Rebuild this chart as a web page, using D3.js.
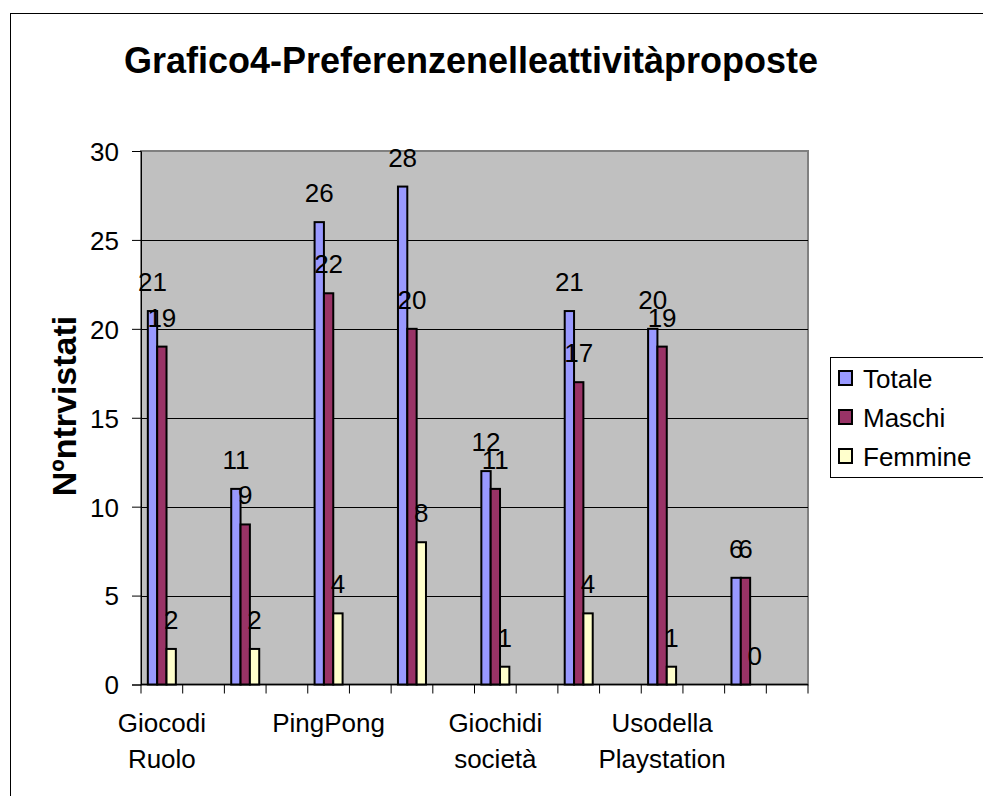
<!DOCTYPE html>
<html>
<head>
<meta charset="utf-8">
<script src="https://cdn.jsdelivr.net/npm/d3@7"></script>
<style>
  body { margin: 0; background: #fff; }
  svg { display: block; font-family: "Liberation Sans", Arial, sans-serif; }
</style>
</head>
<body>
<svg width="983" height="796"></svg>
<script>
// categories - Excel leaves empty rows between the groups, so 16 slots
var categories = ["Giocodi Ruolo", "", "", "", "PingPong", "", "", "", "Giochidi società", "", "", "", "Usodella Playstation", "", "", ""];
var seriesNames = ["Totale", "Maschi", "Femmine"];
var totale  = [21, null, 11, null, 26, null, 28, null, 12, null, 21, null, 20, null, 6, null];
var maschi  = [19, null, 9, null, 22, null, 20, null, 11, null, 17, null, 19, null, 6, null];
var femmine = [2, null, 2, null, 4, null, 8, null, 1, null, 4, null, 1, null, 0, null];
var yTicks = [0, 5, 10, 15, 20, 25, 30];
var colors = ["#9999ff", "#993366", "#ffffcc"];

var title = "Grafico4-Preferenzenelleattivitàproposte";
var yTitle = "Nºntrvistati";

var svg = d3.select("svg");
var plot = { left: 141, right: 808, top: 151, bottom: 684.5 };

// outer chart border (runs off the right and bottom edge)
svg.append("rect")
    .attr("x", 10.5).attr("y", 13.5)
    .attr("width", 1000).attr("height", 800)
    .attr("fill", "#fff").attr("stroke", "#000");

svg.append("text")
    .attr("x", 471).attr("y", 73)
    .attr("text-anchor", "middle")
    .style("font-size", "36px").style("font-weight", "bold")
    .text(title);

var x = d3.scaleBand()
    .domain(d3.range(categories.length))
    .range([plot.left, plot.right])
    .padding(0);

var bw = x.bandwidth();
var x1 = d3.scaleBand()
    .domain(seriesNames)
    .range([bw * 0.164, bw * 0.836]);

var y = d3.scaleLinear()
    .domain([0, 30])
    .range([plot.bottom, plot.top]);

// plot area
svg.append("rect")
    .attr("x", plot.left).attr("y", plot.top)
    .attr("width", plot.right - plot.left).attr("height", plot.bottom - plot.top)
    .attr("fill", "#c0c0c0").attr("stroke", "#808080").attr("stroke-width", 2);

// gridlines
svg.append("g").selectAll("line")
    .data(yTicks.filter(d => d > 0 && d < 30))
    .enter().append("line")
    .attr("x1", plot.left).attr("x2", plot.right)
    .attr("y1", d => Math.round(y(d)) + 0.5).attr("y2", d => Math.round(y(d)) + 0.5)
    .attr("stroke", "#000");

// y axis
var yAxis = svg.append("g")
    .attr("transform", "translate(" + plot.left + ",0)")
    .call(d3.axisLeft(y).tickValues(yTicks).tickSize(9).tickPadding(13));
yAxis.selectAll("text").style("font-size", "26px").attr("fill", "#000").attr("dy", "0.36em");
yAxis.selectAll("line, path").attr("stroke", "#000");

// x axis line + ticks on category boundaries
svg.append("line")
    .attr("x1", plot.left).attr("x2", plot.right)
    .attr("y1", plot.bottom).attr("y2", plot.bottom)
    .attr("stroke", "#000").attr("stroke-width", 1.5);

svg.append("g").selectAll("line")
    .data(d3.range(categories.length + 1))
    .enter().append("line")
    .attr("x1", d => x.step() * d + plot.left).attr("x2", d => x.step() * d + plot.left)
    .attr("y1", plot.bottom).attr("y2", plot.bottom + 9)
    .attr("stroke", "#000");

// category labels, wrapped on the space like Excel does
var lbl = svg.append("g").selectAll("text")
    .data(categories.map((c, i) => ({ c: c, i: i })).filter(d => d.c !== ""))
    .enter().append("text")
    .attr("text-anchor", "middle")
    .style("font-size", "26px");
lbl.each(function(d) {
    var t = d3.select(this);
    d.c.split(" ").forEach(function(w, k) {
        t.append("tspan")
            .attr("x", x(d.i) + bw / 2)
            .attr("y", 732 + k * 35.5)
            .text(w);
    });
});

// bars
var series = [totale, maschi, femmine];
var rows = [];
series.forEach(function(vals, s) {
    vals.forEach(function(v, i) {
        if (v !== null) rows.push({ s: s, i: i, v: v });
    });
});

svg.append("g").selectAll("rect")
    .data(rows)
    .enter().append("rect")
    .attr("x", d => x(d.i) + x1(seriesNames[d.s]))
    .attr("y", d => y(d.v))
    .attr("width", x1.bandwidth())
    .attr("height", d => y(0) - y(d.v))
    .attr("fill", d => colors[d.s])
    .attr("stroke", "#000")
    .attr("stroke-width", 2);

// value labels
svg.append("g").selectAll("text")
    .data(rows)
    .enter().append("text")
    .attr("x", d => x(d.i) + x1(seriesNames[d.s]) + x1.bandwidth() / 2)
    .attr("y", d => y(d.v) - 20)
    .attr("text-anchor", "middle")
    .style("font-size", "26px")
    .text(d => d.v);

// y axis title
svg.append("text")
    .attr("transform", "translate(76,406) rotate(-90)")
    .attr("text-anchor", "middle")
    .style("font-size", "34px").style("font-weight", "bold")
    .text(yTitle);

// legend
var legend = svg.append("g");
legend.append("rect")
    .attr("x", 830.5).attr("y", 357.5)
    .attr("width", 160).attr("height", 120)
    .attr("fill", "#fff").attr("stroke", "#000");

var li = legend.selectAll("g")
    .data(seriesNames)
    .enter().append("g")
    .attr("transform", (d, i) => "translate(0," + (i * 39) + ")");
li.append("rect")
    .attr("x", 839).attr("y", 371)
    .attr("width", 13).attr("height", 14)
    .attr("fill", (d, i) => colors[i])
    .attr("stroke", "#000").attr("stroke-width", 2);
li.append("text")
    .attr("x", 863).attr("y", 387.5)
    .style("font-size", "26px")
    .text(d => d);
</script>
</body>
</html>
